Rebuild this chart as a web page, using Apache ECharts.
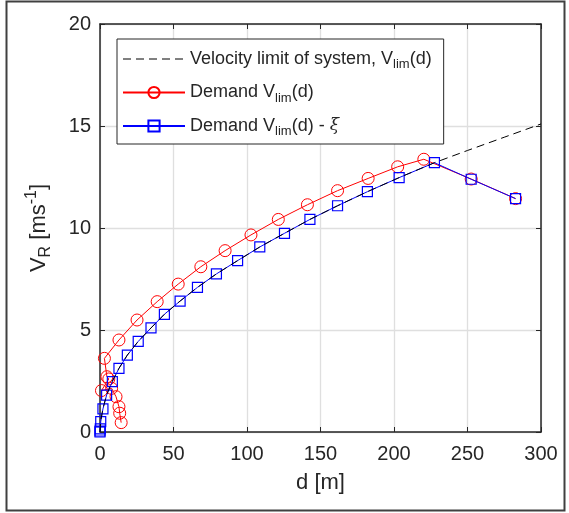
<!DOCTYPE html>
<html>
<head>
<meta charset="utf-8">
<script src="https://cdn.jsdelivr.net/npm/echarts@6/dist/echarts.min.js"></script>
<style>
  html, body { margin: 0; padding: 0; background: #fff; }
  #chart { width: 569px; height: 513px; }
</style>
</head>
<body>
<div id="chart"></div>
<script>
    // 读图得到的数据
    const limD = [0, 0.5, 2, 4.5, 8.4, 12.9, 18.6, 26, 34.7, 43.8, 54.5, 66.3, 79.2, 93.6, 108.7, 125.5, 142.8, 161.6, 181.9, 203.5, 227.5, 250, 275, 300]
    const limV = [0, 0.55, 1.15, 1.82, 2.5, 3.12, 3.77, 4.44, 5.1, 5.77, 6.42, 7.09, 7.75, 8.4, 9.07, 9.74, 10.42, 11.09, 11.78, 12.47, 13.2, 13.8, 14.45, 15.1]

    const redD = [282.7, 252.5, 220.3, 202.5, 182.4, 161.6, 141.1, 121.3, 102.7, 85.1, 68.6, 53.2, 38.9, 25.2, 12.9, 3.0, 4.7, 6.0, 1.0, 7.9, 10.9, 12.9, 13.4, 14.4]
    const redV = [11.44, 12.40, 13.37, 13.0, 12.43, 11.83, 11.14, 10.42, 9.66, 8.89, 8.10, 7.25, 6.39, 5.49, 4.51, 3.61, 2.71, 2.6, 2.03, 2.14, 1.73, 1.24, 0.92, 0.46]

    const blueD = [282.7, 252.5, 227.5, 203.5, 181.9, 161.6, 142.8, 125.5, 108.7, 93.6, 79.2, 66.3, 54.5, 43.8, 34.7, 26.0, 18.6, 12.9, 8.4, 4.5, 2.0, 0.5, 0.2, 0, 0]
    const blueV = [11.44, 12.39, 13.2, 12.47, 11.78, 11.09, 10.42, 9.74, 9.07, 8.40, 7.75, 7.09, 6.42, 5.77, 5.10, 4.44, 3.77, 3.12, 2.47, 1.81, 1.13, 0.51, 0.15, 0.05, 0]

    const xTicks = [0, 50, 100, 150, 200, 250, 300]
    const yTicks = [0, 5, 10, 15, 20]

    const names = ['Velocity limit of system, V_lim(d)', 'Demand V_lim(d)', 'Demand V_lim(d) - xi']

    const zip = (a, b) => a.map((v, i) => [v, b[i]])
    const axisColor = '#262626'
    const font = 'Liberation Sans'

    const mChart = echarts.init(document.getElementById('chart'))

    const baseAxis = {
        axisLine: { show: true, onZero: false, lineStyle: { color: axisColor, width: 1.5 } },
        axisTick: { show: true, inside: true, length: 5, lineStyle: { color: axisColor, width: 1 } },
        splitLine: { show: false }
    }

    const option = {
        animation: false,
        textStyle: { fontFamily: font },
        grid: { left: 100, right: 28, top: 24, bottom: 81, containLabel: false },
        graphic: [{
            type: 'rect',
            shape: { x: 6.5, y: 1.5, width: 558, height: 509 },
            style: { fill: 'none', stroke: '#404040', lineWidth: 2 },
            silent: true
        }],
        legend: {
            orient: 'vertical',
            left: 117,
            top: 39,
            padding: [11, 12, 6, 5],
            itemGap: 12.5,
            itemWidth: 62,
            itemHeight: 14,
            itemTextGap: 6,
            backgroundColor: '#fff',
            borderColor: axisColor,
            borderWidth: 1,
            data: [
                {
                    name: names[0],
                    lineStyle: { width: 1 },
                    itemStyle: { color: 'rgba(0,0,0,0)', borderWidth: 0, opacity: 0 }
                },
                { name: names[1], lineStyle: { width: 2 } },
                { name: names[2], lineStyle: { width: 2 } }
            ],
            formatter: function (name) {
                if (name === names[0]) return '{t|Velocity limit of system, V}{s|lim}{t|(d)}'
                if (name === names[1]) return '{t|Demand V}{s|lim}{t|(d)}'
                return '{t|Demand V}{s|lim}{t|(d) - }{g|ξ}'
            },
            textStyle: {
                color: axisColor,
                rich: {
                    t: { fontFamily: font, fontSize: 18, lineHeight: 24, color: axisColor },
                    s: { fontFamily: font, fontSize: 13, lineHeight: 13, verticalAlign: 'bottom', color: axisColor },
                    g: { fontFamily: 'DejaVu Serif', fontStyle: 'italic', fontSize: 17, lineHeight: 24, color: axisColor }
                }
            }
        },
        xAxis: [
            Object.assign({}, baseAxis, {
                type: 'value',
                min: 0, max: 300, interval: 50,
                position: 'bottom',
                splitLine: { show: true, lineStyle: { color: '#dfdfdf', width: 1.3 } },
                axisLabel: {
                    color: axisColor, fontSize: 20, margin: 12,
                    customValues: xTicks
                },
                name: 'd [m]',
                nameLocation: 'middle',
                nameGap: 40,
                nameTextStyle: { color: axisColor, fontSize: 22, fontFamily: font }
            }),
            Object.assign({}, baseAxis, {
                type: 'value',
                min: 0, max: 300, interval: 50,
                position: 'top',
                axisLabel: { show: false }
            })
        ],
        yAxis: [
            Object.assign({}, baseAxis, {
                type: 'value',
                min: 0, max: 20, interval: 5,
                position: 'left',
                splitLine: { show: true, lineStyle: { color: '#dfdfdf', width: 1.3 } },
                axisLabel: {
                    color: axisColor, fontSize: 20, margin: 9,
                    customValues: yTicks
                },
                name: '{v|V}{sub|R}{v| [ms}{sup|-1}{v|]}',
                nameLocation: 'middle',
                nameGap: 46,
                nameTextStyle: {
                    color: axisColor,
                    rich: {
                        v: { fontFamily: font, fontSize: 22, lineHeight: 30, color: axisColor },
                        sub: { fontFamily: font, fontSize: 16, lineHeight: 16, verticalAlign: 'bottom', color: axisColor },
                        sup: { fontFamily: font, fontSize: 16, lineHeight: 16, verticalAlign: 'top', color: axisColor }
                    }
                }
            }),
            Object.assign({}, baseAxis, {
                type: 'value',
                min: 0, max: 20, interval: 5,
                position: 'right',
                axisLabel: { show: false }
            })
        ],
        series: [
            {
                name: names[1],
                type: 'line',
                clip: false,
                data: zip(redD, redV),
                symbol: 'circle',
                symbolSize: 12,
                lineStyle: { color: '#ff0000', width: 1 },
                itemStyle: { color: 'rgba(0,0,0,0)', borderColor: '#ff0000', borderWidth: 1 },
                z: 3
            },
            {
                name: names[2],
                type: 'line',
                clip: false,
                data: zip(blueD, blueV),
                symbol: 'rect',
                symbolSize: 10,
                lineStyle: { color: '#0000ff', width: 1 },
                itemStyle: { color: 'rgba(0,0,0,0)', borderColor: '#0000ff', borderWidth: 1.2 },
                z: 4
            },
            {
                name: names[0],
                type: 'line',
                clip: false,
                data: zip(limD, limV),
                symbol: 'none',
                lineStyle: { color: '#000000', width: 1, type: [8, 5] },
                itemStyle: { color: '#000000' },
                z: 5
            }
        ]
    }

    mChart.setOption(option)
</script>
</body>
</html>
